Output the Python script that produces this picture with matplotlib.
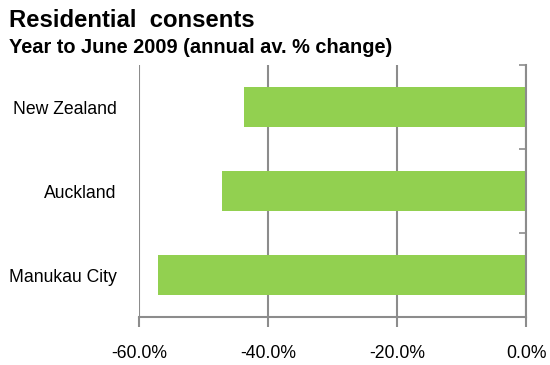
import matplotlib.pyplot as plt
from matplotlib.ticker import FixedLocator, FuncFormatter

plt.rcParams['font.family'] = ['Liberation Sans', 'DejaVu Sans']

regions = ['New Zealand', 'Auckland', 'Manukau City']
change = [-43.7, -47.2, -57.1]
xticks = [-60, -40, -20, 0]

green = '#92D050'
grey = '#8C8C8C'

fig = plt.figure(figsize=(5.5, 3.65), dpi=100)
ax = fig.add_axes([0.2527, 0.1315, 0.7037, 0.6904])

ypos = list(range(len(regions)))
ax.barh(ypos, change, height=0.47, color=green, zorder=2)

ax.set_xlim(-60, 0)
ax.set_ylim(2.5, -0.5)
ax.set_xticks(xticks)
ax.xaxis.set_major_formatter(FuncFormatter(lambda v, p: f'{v:.1f}%'))
ax.grid(axis='x', color=grey, linewidth=1.5, zorder=0)
ax.grid(axis='y', visible=False)

ax.set_yticks(ypos)
ax.set_yticklabels(regions)
ax.yaxis.set_minor_locator(FixedLocator([-0.5, 0.5, 1.5, 2.5]))
ax.tick_params(axis='y', which='major', left=False, right=False, length=0, pad=16, labelsize=12.7)
ax.tick_params(axis='y', which='minor', left=False, right=True, direction='in',
               length=5, width=1.2, color=grey)
ax.tick_params(axis='x', direction='out', length=7, width=1.5, color=grey, pad=13, labelsize=12.7)

for side in ['top', 'left']:
    ax.spines[side].set_visible(False)
for side in ['bottom', 'right']:
    ax.spines[side].set_color(grey)
    ax.spines[side].set_linewidth(1.5)

fig.text(0.016, 0.925, 'Residential  consents', fontsize=17.2, fontweight='bold')
fig.text(0.016, 0.855, 'Year to June 2009 (annual av. % change)', fontsize=14.4, fontweight='bold')

fig.savefig('out.png', dpi=100)
